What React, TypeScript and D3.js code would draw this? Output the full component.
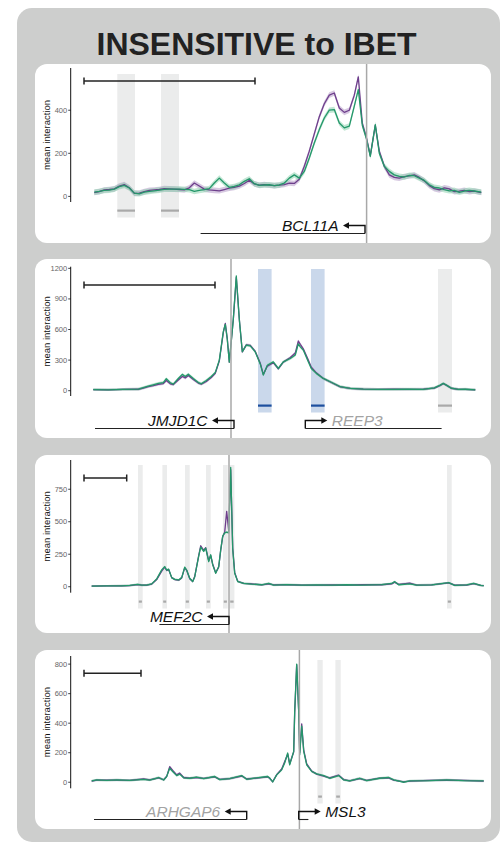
import React from "react";
import * as d3 from "d3";

const title = "INSENSITIVE to IBET";

// BCL11A window (positions in kb from window start)
const p1Pos = [0, 5, 10, 15, 20, 25, 30, 35, 40, 45, 50, 55, 60, 65, 70, 75, 80, 85, 90, 95, 100, 105, 110, 115, 120, 125, 130, 135, 140, 145, 150, 155, 160, 165, 170, 175, 180, 185, 190, 195, 200, 205, 210, 215, 220, 225, 230, 235, 240, 245, 250, 255, 260, 264, 268, 272, 276, 281, 285, 290, 295, 300, 305, 310, 315, 320, 325, 330, 335, 340, 345, 350, 355, 360, 365, 370, 375, 380, 387];
const p1Green = [20, 23, 28, 29, 34, 45, 51, 39, 15, 12, 20, 23, 26, 29, 33, 34, 34, 34, 33, 31, 23, 28, 31, 36, 62, 85, 62, 42, 46, 54, 70, 82, 59, 51, 53, 54, 50, 53, 62, 85, 100, 85, 116, 178, 248, 310, 364, 400, 403, 341, 318, 326, 419, 496, 330, 270, 186, 333, 200, 140, 116, 100, 93, 90, 98, 96, 85, 74, 54, 42, 39, 31, 26, 28, 19, 25, 28, 25, 20];
const p1Purple = [18, 22, 30, 32, 35, 48, 55, 40, 14, 15, 22, 28, 30, 32, 36, 35, 34, 32, 30, 40, 62, 48, 34, 30, 28, 26, 32, 38, 42, 48, 60, 75, 58, 52, 55, 52, 50, 52, 55, 62, 60, 80, 140, 210, 290, 370, 430, 470, 480, 410, 390, 400, 470, 555, 340, 275, 190, 330, 210, 140, 100, 88, 85, 92, 95, 100, 88, 72, 50, 36, 30, 40, 35, 22, 24, 28, 22, 25, 18];
const p1Ticks = [0, 200, 400];

// JMJD1C / REEP3 window
const p2Pos = [0, 15, 30, 45, 50, 55, 60, 65, 70, 73, 77, 80, 85, 89, 92, 95, 100, 105, 108, 113, 118, 122, 126, 130, 132, 134, 136, 140, 143, 146, 149, 153, 157, 162, 167, 170, 174, 180, 185, 190, 197, 202, 205, 207, 210, 215, 218, 223, 230, 237, 247, 257, 270, 285, 300, 315, 330, 341, 347, 350, 353, 358, 365, 372, 382];
const p2Green = [10, 8, 13, 16, 30, 45, 58, 72, 80, 118, 78, 65, 120, 160, 140, 162, 120, 80, 68, 100, 140, 180, 300, 580, 650, 500, 280, 700, 1125, 700, 383, 447, 440, 380, 260, 153, 250, 283, 218, 283, 316, 350, 460, 430, 398, 283, 218, 170, 120, 88, 39, 23, 15, 13, 12, 15, 13, 28, 55, 72, 55, 25, 12, 14, 8];
const p2Purple = [10, 8, 12, 14, 25, 40, 50, 62, 70, 100, 68, 60, 105, 140, 125, 150, 110, 75, 65, 90, 130, 170, 290, 570, 660, 510, 280, 700, 1110, 700, 380, 450, 445, 385, 270, 160, 240, 275, 215, 280, 325, 370, 487, 455, 410, 300, 230, 175, 120, 85, 38, 22, 15, 12, 14, 13, 15, 25, 52, 70, 55, 24, 13, 12, 8];
const p2Ticks = [0, 300, 600, 900, 1200];

// MEF2C window
const p3Pos = [0, 15, 30, 38, 46, 50, 55, 60, 65, 70, 73, 75, 77, 80, 83, 87, 90, 93, 95, 98, 101, 103, 107, 109, 112, 114, 117, 119, 121, 124, 127, 129, 131, 133, 135, 137, 139, 141, 143, 146, 152, 160, 170, 177, 182, 195, 210, 225, 240, 255, 270, 290, 300, 303, 307, 318, 325, 340, 357, 363, 375, 382, 389, 392];
const p3Green = [5, 6, 7, 10, 18, 12, 13, 22, 60, 130, 155, 128, 135, 70, 57, 52, 70, 150, 128, 65, 40, 75, 235, 305, 272, 297, 194, 246, 168, 103, 155, 284, 390, 414, 420, 414, 918, 290, 103, 40, 26, 20, 15, 26, 12, 16, 12, 14, 12, 15, 13, 16, 25, 39, 15, 22, 12, 14, 31, 10, 14, 26, 10, 8];
const p3Purple = [5, 6, 7, 9, 16, 12, 12, 20, 55, 120, 150, 125, 130, 70, 55, 50, 68, 145, 125, 62, 40, 78, 240, 315, 280, 300, 200, 240, 175, 108, 150, 280, 385, 420, 580, 430, 900, 300, 110, 42, 25, 22, 14, 22, 14, 15, 13, 12, 14, 13, 15, 15, 22, 35, 18, 28, 13, 14, 30, 12, 13, 24, 10, 8];
const p3Ticks = [0, 250, 500, 750];

// ARHGAP6 / MSL3 window
const p4Pos = [0, 5, 15, 25, 38, 52, 58, 67, 72, 75, 78, 81, 85, 88, 92, 98, 105, 112, 123, 128, 138, 150, 155, 165, 176, 178, 181, 185, 190, 193, 196, 198, 202, 203, 205, 207, 208, 210, 212, 215, 220, 225, 232, 238, 247, 252, 258, 268, 275, 288, 297, 302, 312, 318, 338, 355, 372, 392];
const p4Green = [9, 16, 13, 16, 13, 20, 15, 32, 15, 39, 95, 73, 45, 55, 30, 27, 34, 25, 39, 18, 25, 45, 20, 30, 39, 28, 2, 50, 84, 130, 198, 118, 209, 482, 800, 482, 186, 380, 209, 118, 73, 57, 45, 27, 45, 16, 9, 27, 11, 27, 32, 16, 0, 9, 11, 16, 11, 9];
const p4Purple = [8, 14, 14, 15, 13, 22, 16, 30, 17, 40, 105, 80, 50, 62, 32, 28, 32, 26, 36, 20, 24, 42, 22, 28, 36, 27, 3, 52, 90, 140, 190, 125, 205, 470, 795, 480, 200, 395, 220, 125, 75, 55, 42, 30, 48, 18, 10, 25, 12, 28, 30, 15, 2, 8, 12, 15, 12, 8];
const p4Ticks = [0, 200, 400, 600, 800];

const panels = [
  {
    top: 64, bottom: 243, xRange: [94.3, 481.7], yDomain: [-26, 596], yRange: [202, 68],
    pos: p1Pos, green: p1Green, purple: p1Purple, ticks: p1Ticks, spread: 13,
    regions: [{ from: 23, to: 40.7, kind: "gray" }, { from: 66.7, to: 84.7, kind: "gray" }],
    vline: 272.3, bar: [-10.3, 160.7], barY: 81,
    genes: [{ name: "BCL11A", tss: 270.7, end: 106.3, strand: -1, active: true }],
  },
  {
    top: 259, bottom: 438, xRange: [93.3, 476], yDomain: [-52, 1216], yRange: [396, 266.7],
    pos: p2Pos, green: p2Green, purple: p2Purple, ticks: p2Ticks, spread: 14,
    regions: [
      { from: 164.7, to: 178.3, kind: "blue" },
      { from: 217.7, to: 231.3, kind: "blue" },
      { from: 344.7, to: 358.7, kind: "gray" },
    ],
    vline: 137.7, bar: [-9.3, 121.7], barY: 285,
    genes: [
      { name: "JMJD1C", tss: 140.7, end: 1.7, strand: -1, active: true },
      { name: "REEP3", tss: 212, end: 348.3, strand: 1, active: false },
    ],
  },
  {
    top: 455, bottom: 633, xRange: [91.7, 484.3], yDomain: [-46, 975], yRange: [592.7, 460],
    pos: p3Pos, green: p3Green, purple: p3Purple, ticks: p3Ticks, spread: 8,
    regions: [
      { from: 46.3, to: 51, kind: "gray" },
      { from: 70.7, to: 75.3, kind: "gray" },
      { from: 93.3, to: 98, kind: "gray" },
      { from: 114.3, to: 119, kind: "gray" },
      { from: 131.3, to: 136, kind: "gray" },
      { from: 137.7, to: 142.7, kind: "gray" },
      { from: 355.3, to: 360, kind: "gray" },
    ],
    vline: 137.3, bar: [-7.7, 35], barY: 478,
    genes: [{ name: "MEF2C", tss: 137.3, end: 67.7, strand: -1, active: true }],
  },
  {
    top: 650, bottom: 829, xRange: [91.7, 484.3], yDomain: [-41, 855], yRange: [788.3, 656],
    pos: p4Pos, green: p4Green, purple: p4Purple, ticks: p4Ticks, spread: 8,
    regions: [
      { from: 225.7, to: 231, kind: "gray" },
      { from: 243.7, to: 249, kind: "gray" },
    ],
    vline: 207.7, bar: [-7.7, 49.3], barY: 673.3,
    genes: [
      { name: "ARHGAP6", tss: 155, end: 2.3, strand: -1, active: false },
      { name: "MSL3", tss: 207, end: 216.7, strand: 1, active: true },
    ],
  },
];

const font = "'Liberation Sans', Arial, Helvetica, sans-serif";
const GREEN = "#24976a";
const PURPLE = "#6e3f8c";
const AXIS_X = 70.7;

function Panel({ p }) {
  const x = d3
    .scaleLinear()
    .domain([0, p.xRange[1] - p.xRange[0]])
    .range(p.xRange);
  const y = d3.scaleLinear().domain(p.yDomain).range(p.yRange);
  const idx = d3.range(p.pos.length);

  const line = (vals) =>
    d3
      .line()
      .x((i) => x(p.pos[i]))
      .y((i) => y(vals[i]))(idx);
  const ribbon = (vals) =>
    d3
      .area()
      .x((i) => x(p.pos[i]))
      .y0((i) => y(Math.max(0, vals[i] - p.spread)))
      .y1((i) => y(vals[i] + p.spread))(idx);

  const regTop = p.top + 10;
  const regBottom = p.top + 153.5;
  const regBar = p.top + 146.5;
  const bodyY = p.top + 169.5;
  const arrowY = bodyY - 8;
  const yMid = (p.yRange[0] + p.yRange[1]) / 2;

  return (
    <g>
      <rect x={35} y={p.top} width={456} height={p.bottom - p.top} rx={12} fill="#ffffff" />
      {p.regions.map((r, i) => (
        <g key={i}>
          <rect
            x={x(r.from)}
            y={regTop}
            width={x(r.to) - x(r.from)}
            height={regBottom - regTop}
            fill={r.kind === "blue" ? "#cad8eb" : "#ebecec"}
          />
          <rect
            x={x(r.from) + (r.kind === "gray" && r.to - r.from < 6 ? 0.8 : 0)}
            y={regBar - 1}
            width={x(r.to) - x(r.from) - (r.kind === "gray" && r.to - r.from < 6 ? 1.6 : 0)}
            height={2.2}
            fill={r.kind === "blue" ? "#1d4f9e" : "#a9a9a9"}
          />
        </g>
      ))}
      <path d={ribbon(p.purple)} fill="#b79cc9" opacity={0.55} />
      <path d={ribbon(p.green)} fill="#8fd3b0" opacity={0.55} />
      <path d={line(p.purple)} fill="none" stroke={PURPLE} strokeWidth={1.3} strokeLinejoin="round" />
      <path d={line(p.green)} fill="none" stroke={GREEN} strokeWidth={1.3} strokeLinejoin="round" />
      <line x1={x(p.vline)} x2={x(p.vline)} y1={p.top} y2={p.bottom} stroke="#a8a8a8" strokeWidth={1.5} />

      {/* y axis */}
      <line x1={AXIS_X} x2={AXIS_X} y1={p.yRange[1]} y2={p.yRange[0]} stroke="#111" strokeWidth={1} />
      {p.ticks.map((t) => (
        <g key={t}>
          <line x1={AXIS_X - 2.5} x2={AXIS_X} y1={y(t)} y2={y(t)} stroke="#111" strokeWidth={0.8} />
          <text
            x={AXIS_X - 3.5}
            y={y(t)}
            dy="0.33em"
            textAnchor="end"
            fontSize={7.5}
            fontFamily={font}
            fill="#666"
          >
            {t}
          </text>
        </g>
      ))}
      <text
        transform={`translate(49.5,${yMid}) rotate(-90)`}
        textAnchor="middle"
        fontSize={9.5}
        fontFamily={font}
        fill="#111"
      >
        mean interaction
      </text>

      {/* scale bar */}
      <g stroke="#222" strokeWidth={1.5}>
        <line x1={x(p.bar[0])} x2={x(p.bar[1])} y1={p.barY} y2={p.barY} />
        <line x1={x(p.bar[0])} x2={x(p.bar[0])} y1={p.barY - 3.5} y2={p.barY + 3.5} />
        <line x1={x(p.bar[1])} x2={x(p.bar[1])} y1={p.barY - 3.5} y2={p.barY + 3.5} />
      </g>

      {/* genes */}
      {p.genes.map((g) => {
        const tx = x(g.tss);
        const tip = tx + g.strand * 22;
        const col = g.active ? "#111" : "#a3a3a3";
        return (
          <g key={g.name}>
            <line x1={tx} x2={x(g.end)} y1={bodyY} y2={bodyY} stroke="#222" strokeWidth={1.1} />
            <path
              d={`M${tx},${bodyY}V${arrowY}H${tip - g.strand * 5}`}
              fill="none"
              stroke="#111"
              strokeWidth={1.4}
            />
            <path
              d={`M${tip},${arrowY}L${tip - g.strand * 6},${arrowY - 3.3}L${tip - g.strand * 6},${arrowY + 3.3}Z`}
              fill="#111"
            />
            <text
              x={tip + g.strand * 4.5}
              y={arrowY + 5.5}
              textAnchor={g.strand < 0 ? "end" : "start"}
              fontSize={15.5}
              fontStyle="italic"
              fontFamily={font}
              fill={col}
            >
              {g.name}
            </text>
          </g>
        );
      })}
    </g>
  );
}

export default function App() {
  return (
    <svg
      width={502}
      height={842}
      style={{ position: "absolute", left: 0, top: 0 }}
    >
      <rect x={0} y={0} width={502} height={842} fill="#ffffff" />
      <rect x={17} y={8} width={483} height={834} rx={15} fill="#cdcecd" />
      <text
        x={256.5}
        y={55}
        textAnchor="middle"
        fontSize={32}
        fontWeight="bold"
        fontFamily={font}
        fill="#222"
      >
        {title}
      </text>
      {panels.map((p, i) => (
        <Panel key={i} p={p} />
      ))}
    </svg>
  );
}
